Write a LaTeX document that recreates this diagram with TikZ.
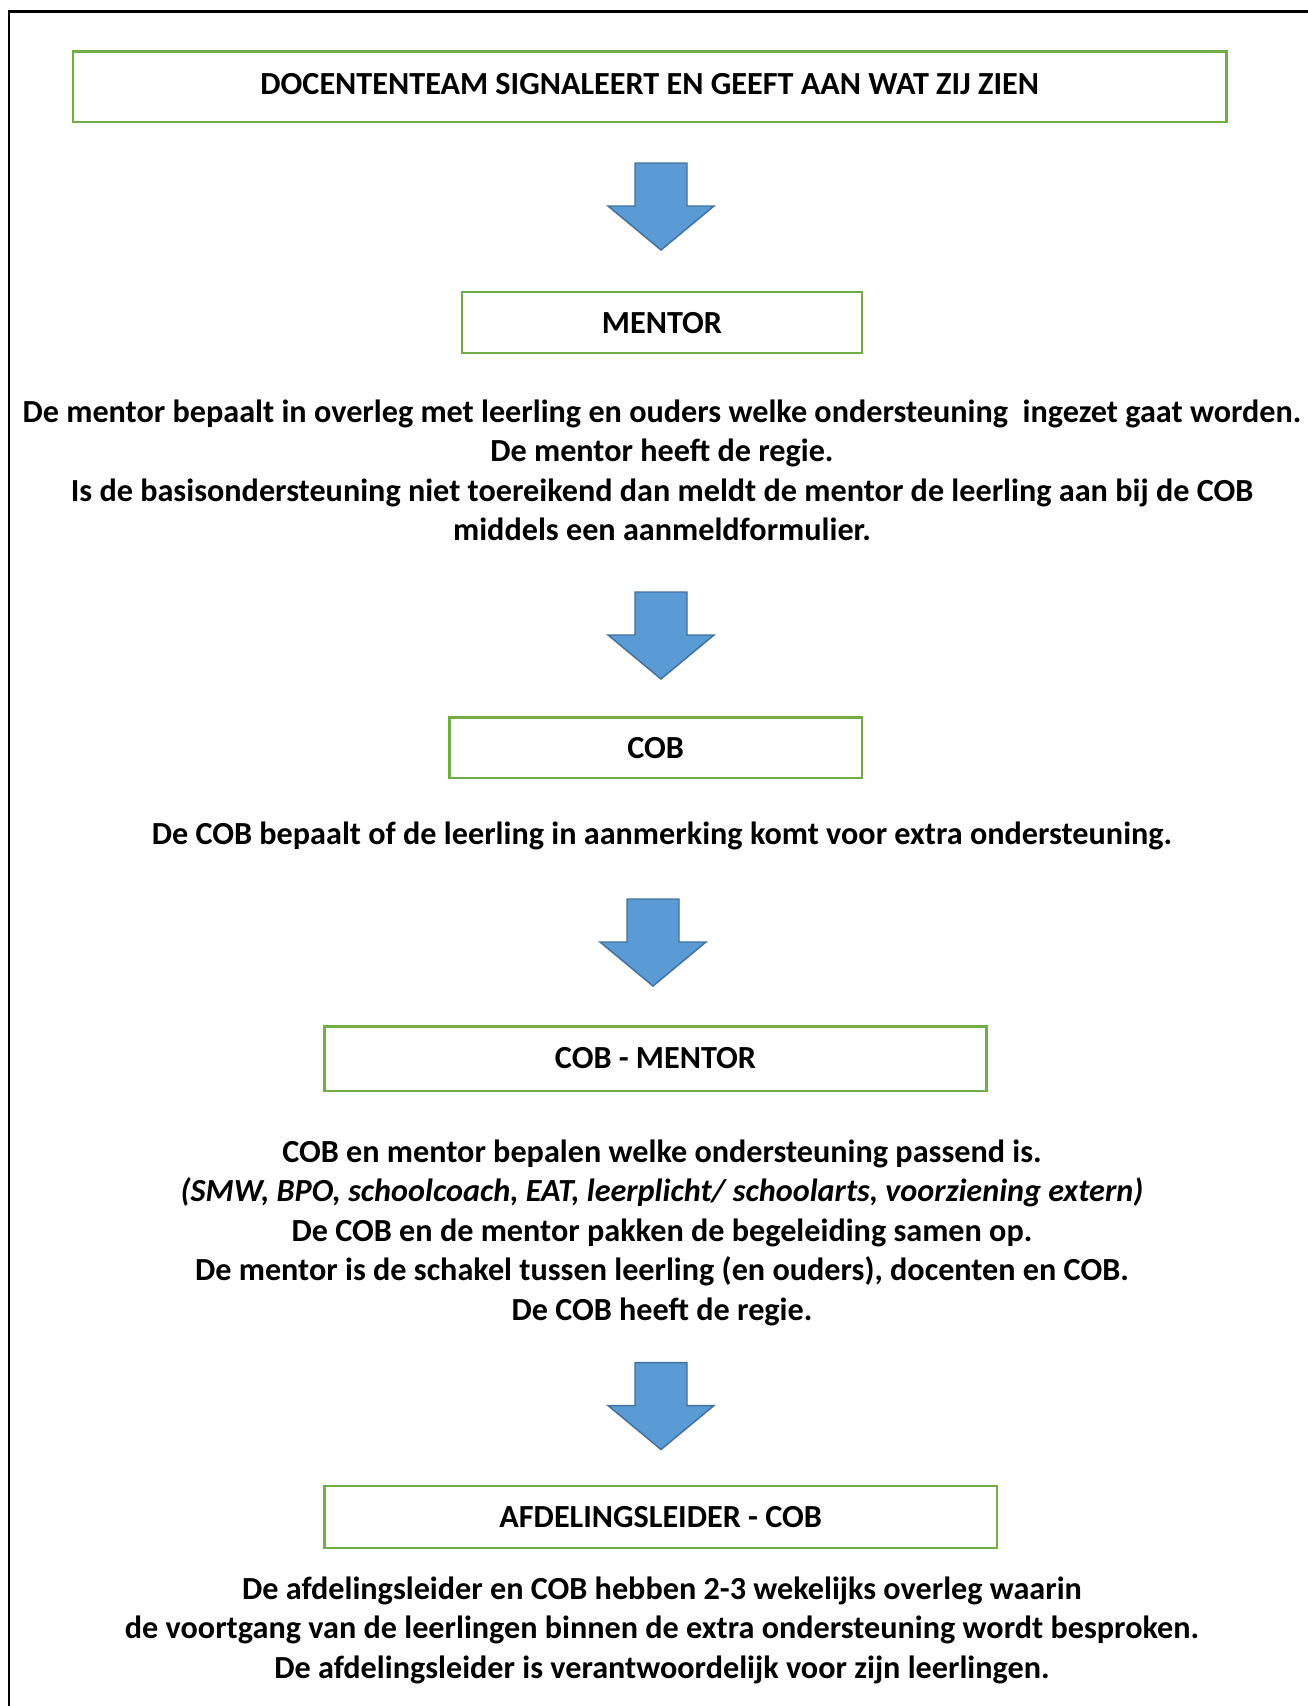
\documentclass[tikz,border=0pt]{standalone}
\usepackage{fontspec}
\setmainfont{Carlito}
\definecolor{boxgreen}{HTML}{70AD47}
\definecolor{arrowfill}{HTML}{5B9BD5}
\definecolor{arrowline}{HTML}{41719C}
\tikzset{
  stepbox/.style={draw=boxgreen, line width=1.6pt, fill=white},
  bodytext/.style={align=center, font=\bfseries\fontsize{24.15}{29.6}\selectfont, inner sep=0pt},
  boxtext/.style={font=\bfseries\fontsize{24.15}{29.6}\selectfont, inner sep=0pt},
  frameline/.style={line width=1.6pt, black},
  pics/blockarrow/.style={code={
    \draw[fill=arrowfill, draw=arrowline, line width=1.1pt, line join=miter]
      (-26,0) -- (26,0) -- (26,43) -- (53,43) -- (0,87) -- (-53,43) -- (-26,43) -- cycle;
  }}
}
\begin{document}
\begin{tikzpicture}[x=0.75pt,y=-0.75pt]
\useasboundingbox (0,0) rectangle (1307,1706);
% frame
\coordinate (ftl) at (9,11.5);
\coordinate (ftr) at (1310,11.5);
\coordinate (fbl) at (9,1710);
\draw[frameline] (fbl) -- (ftl) -- (ftr);

% boxes
\draw[stepbox] (73,51.5) rectangle (1226.5,122);
\node[boxtext] (t1) at (649.7,84) {DOCENTENTEAM SIGNALEERT EN GEEFT AAN WAT ZIJ ZIEN};

\pic at (661,163) {blockarrow};

\draw[stepbox] (462,292) rectangle (862,353);
\node[boxtext] (t2) at (662,323.5) {MENTOR};

\node[bodytext] (p1) at (662,470.5) {De mentor bepaalt in overleg met leerling en ouders welke ondersteuning\ \ ingezet gaat worden.\\
De mentor heeft de regie.\\
Is de basisondersteuning niet toereikend dan meldt de mentor de leerling aan bij de COB\\
middels een aanmeldformulier.};

\pic at (661,592) {blockarrow};

\draw[stepbox] (449.5,717.5) rectangle (862,778);
\node[boxtext] (t3) at (655.7,748) {COB};

\node[bodytext] (p2) at (662,836) {De COB bepaalt of de leerling in aanmerking komt voor extra ondersteuning.};

\pic at (653,899) {blockarrow};

\draw[stepbox] (324.5,1026.5) rectangle (986.5,1091);
\node[boxtext] (t4) at (655.5,1058) {COB - MENTOR};

\node[bodytext] (p3) at (662,1232.5) {COB en mentor bepalen welke ondersteuning passend is.\\
\textit{(SMW, BPO, schoolcoach, EAT, leerplicht/ schoolarts, voorziening extern)}\\
De COB en de mentor pakken de begeleiding samen op.\\
De mentor is de schakel tussen leerling (en ouders), docenten en COB.\\
De COB heeft de regie.};

\pic at (661,1362.5) {blockarrow};

\draw[stepbox] (324.5,1486) rectangle (997,1548);
\node[boxtext] (t5) at (660.7,1517) {AFDELINGSLEIDER - COB};

\node[bodytext] (p4) at (662,1630) {De afdelingsleider en COB hebben 2-3 wekelijks overleg waarin\\
de voortgang van de leerlingen binnen de extra ondersteuning wordt besproken.\\
De afdelingsleider is verantwoordelijk voor zijn leerlingen.};
\end{tikzpicture}
\end{document}
